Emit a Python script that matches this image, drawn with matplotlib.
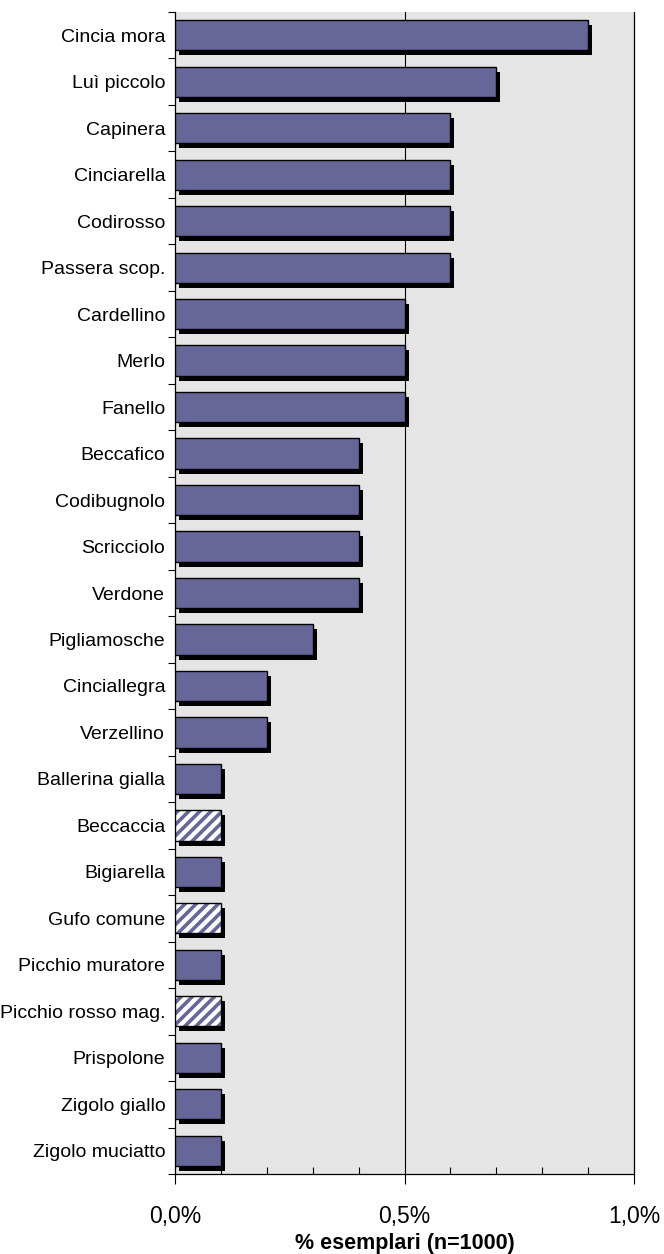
import matplotlib
matplotlib.use("Agg")
import matplotlib.pyplot as plt
import matplotlib.transforms as mtransforms
from matplotlib.ticker import FixedLocator, FuncFormatter

plt.rcParams['font.family'] = ['Liberation Sans', 'DejaVu Sans']
plt.rcParams['hatch.linewidth'] = 2.6

species = ["Cincia mora", "Luì piccolo", "Capinera", "Cinciarella", "Codirosso",
           "Passera scop.", "Cardellino", "Merlo", "Fanello", "Beccafico",
           "Codibugnolo", "Scricciolo", "Verdone", "Pigliamosche", "Cinciallegra",
           "Verzellino", "Ballerina gialla", "Beccaccia", "Bigiarella", "Gufo comune",
           "Picchio muratore", "Picchio rosso mag.", "Prispolone", "Zigolo giallo",
           "Zigolo muciatto"]
values = [0.9, 0.7, 0.6, 0.6, 0.6, 0.6, 0.5, 0.5, 0.5, 0.4, 0.4, 0.4, 0.4,
          0.3, 0.2, 0.2, 0.1, 0.1, 0.1, 0.1, 0.1, 0.1, 0.1, 0.1, 0.1]
hatched = ["Beccaccia", "Gufo comune", "Picchio rosso mag."]

bar_color = "#666699"
bar_h = 0.65

fig = plt.figure(figsize=(6.64, 12.54), dpi=100)
ax = fig.add_axes([175/664, 1 - 1174/1254, (634-175)/664, (1174-12)/1254])
ax.set_facecolor("#e5e5e5")

ypos = list(range(len(species)))
shadow_tr = ax.transData + mtransforms.ScaledTranslation(4/100, -5/100, fig.dpi_scale_trans)

# shadows
ax.barh(ypos, values, height=bar_h, color="black", linewidth=0,
        transform=shadow_tr, zorder=2)

plain_y = [y for y, s in zip(ypos, species) if s not in hatched]
plain_v = [v for v, s in zip(values, species) if s not in hatched]
hatch_y = [y for y, s in zip(ypos, species) if s in hatched]
hatch_v = [v for v, s in zip(values, species) if s in hatched]

ax.barh(plain_y, plain_v, height=bar_h, color=bar_color, edgecolor="black",
        linewidth=1.0, zorder=3)
ax.barh(hatch_y, hatch_v, height=bar_h, facecolor="white", edgecolor=bar_color,
        hatch="///", linewidth=0, zorder=3)
ax.barh(hatch_y, hatch_v, height=bar_h, fill=False, edgecolor="black",
        linewidth=1.0, zorder=4)

ax.set_xlim(0, 1.0)
ax.set_ylim(len(species) - 0.5, -0.5)

# gridline at 0.5
ax.axvline(0.5, color="black", linewidth=0.8, zorder=1)

# x axis ticks
ax.xaxis.set_major_locator(FixedLocator([0.0, 0.5, 1.0]))
ax.xaxis.set_major_formatter(FuncFormatter(lambda v, p: f"{v:.1f}%".replace(".", ",")))
ax.xaxis.set_minor_locator(FixedLocator([i/10 for i in range(1, 10)]))
ax.tick_params(axis="x", which="major", direction="out", length=7, width=0.8,
               labelsize=16.5, pad=15, colors="black")
ax.tick_params(axis="x", which="minor", direction="in", length=5, width=0.8)

# y axis: ticks at boundaries, labels at centres
ax.yaxis.set_major_locator(FixedLocator([i - 0.5 for i in range(len(species) + 1)]))
ax.yaxis.set_major_formatter(FuncFormatter(lambda v, p: ""))
ax.yaxis.set_minor_locator(FixedLocator(ypos))
ax.set_yticklabels(species, minor=True)
ax.tick_params(axis="y", which="major", direction="out", length=5, width=0.8)
ax.tick_params(axis="y", which="minor", length=0, labelsize=14, pad=7)

for side in ["left", "bottom", "right"]:
    ax.spines[side].set_color("black")
    ax.spines[side].set_linewidth(0.9)
ax.spines["top"].set_visible(False)

ax.set_xlabel("% esemplari (n=1000)", fontsize=15.5, fontweight="bold", labelpad=4)

fig.savefig("out.png", dpi=100, facecolor="white")
